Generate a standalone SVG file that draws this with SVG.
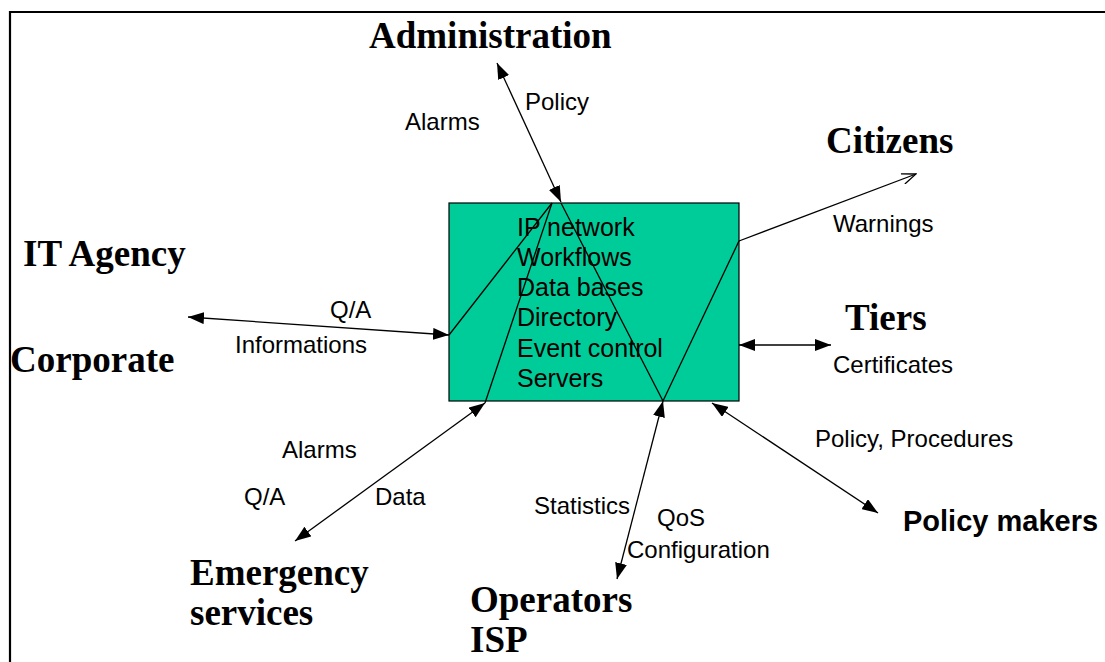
<svg xmlns="http://www.w3.org/2000/svg" width="1105" height="662" viewBox="0 0 1105 662">
<style>
.t{font-family:"Times New Roman","Liberation Serif",serif;font-weight:bold;font-size:37px;fill:#000}
.l{font-family:Arial,"Liberation Sans",sans-serif;font-size:24px;fill:#000}
.b{font-family:Arial,"Liberation Sans",sans-serif;font-size:25px;fill:#000}
.c{stroke:#000;stroke-width:1.3;fill:none}
</style>
<defs>
<marker id="ah" viewBox="0 0 16 12" refX="16" refY="6" markerWidth="16" markerHeight="12" markerUnits="userSpaceOnUse" orient="auto-start-reverse">
<path d="M0,0 L16,6 L0,12 z" fill="#000"/>
</marker>
<marker id="oh" viewBox="0 0 16 12" refX="15" refY="6" markerWidth="16" markerHeight="12" markerUnits="userSpaceOnUse" orient="auto">
<path d="M1,0.5 L15,6 L1,11.5" fill="none" stroke="#000" stroke-width="1.3"/>
</marker>
</defs>
<rect width="1105" height="662" fill="#fff"/>
<path d="M10,662 V12 H1105" fill="none" stroke="#000" stroke-width="2.2"/>

<g id="system">
<rect x="449" y="203" width="290" height="198" fill="#00CC99" stroke="#000" stroke-width="1.2"/>
<text class="b" x="517" y="236">IP network</text>
<text class="b" x="517" y="266">Workflows</text>
<text class="b" x="517" y="296">Data bases</text>
<text class="b" x="517" y="326">Directory</text>
<text class="b" x="517" y="357">Event control</text>
<text class="b" x="517" y="387">Servers</text>
</g>

<g id="connectors">
<line class="c" x1="497" y1="63" x2="561" y2="202" marker-start="url(#ah)" marker-end="url(#ah)"/>
<line class="c" x1="188" y1="317" x2="449" y2="335" marker-start="url(#ah)" marker-end="url(#ah)"/>
<line class="c" x1="739" y1="241" x2="916" y2="174" marker-end="url(#oh)"/>
<line class="c" x1="739" y1="345" x2="831" y2="345" marker-start="url(#ah)" marker-end="url(#ah)"/>
<line class="c" x1="712" y1="403" x2="878" y2="513" marker-start="url(#ah)" marker-end="url(#ah)"/>
<line class="c" x1="663" y1="401" x2="617" y2="579" marker-start="url(#ah)" marker-end="url(#ah)"/>
<line class="c" x1="485" y1="403" x2="295" y2="541" marker-start="url(#ah)" marker-end="url(#ah)"/>
<line class="c" x1="449" y1="335" x2="552" y2="203"/>
<line class="c" x1="485" y1="403" x2="552" y2="203"/>
<line class="c" x1="561" y1="203" x2="663" y2="401"/>
<line class="c" x1="663" y1="401" x2="739" y2="241"/>
<text class="l" x="405" y="130">Alarms</text>
<text class="l" x="525" y="110">Policy</text>
<text class="l" x="833" y="232">Warnings</text>
<text class="l" x="330" y="318">Q/A</text>
<text class="l" x="235" y="353">Informations</text>
<text class="l" x="833" y="373">Certificates</text>
<text class="l" x="815" y="447">Policy, Procedures</text>
<text class="l" x="282" y="458">Alarms</text>
<text class="l" x="244" y="505">Q/A</text>
<text class="l" x="375" y="505">Data</text>
<text class="l" x="534" y="514">Statistics</text>
<text class="l" x="657" y="526">QoS</text>
<text class="l" x="627" y="558">Configuration</text>
</g>

<g id="administration"><text class="t" x="369" y="48">Administration</text></g>
<g id="citizens"><text class="t" x="826" y="153">Citizens</text></g>
<g id="it-agency"><text class="t" x="23" y="266">IT Agency</text></g>
<g id="corporate"><text class="t" x="10" y="372">Corporate</text></g>
<g id="tiers"><text class="t" x="845" y="330">Tiers</text></g>
<g id="policy-makers"><text x="903" y="531" font-family="Arial,'Liberation Sans',sans-serif" font-weight="bold" font-size="29">Policy makers</text></g>
<g id="emergency"><text class="t" x="190" y="585">Emergency</text><text class="t" x="190" y="625">services</text></g>
<g id="operators"><text class="t" x="470" y="612">Operators</text><text class="t" x="470" y="652">ISP</text></g>
</svg>
